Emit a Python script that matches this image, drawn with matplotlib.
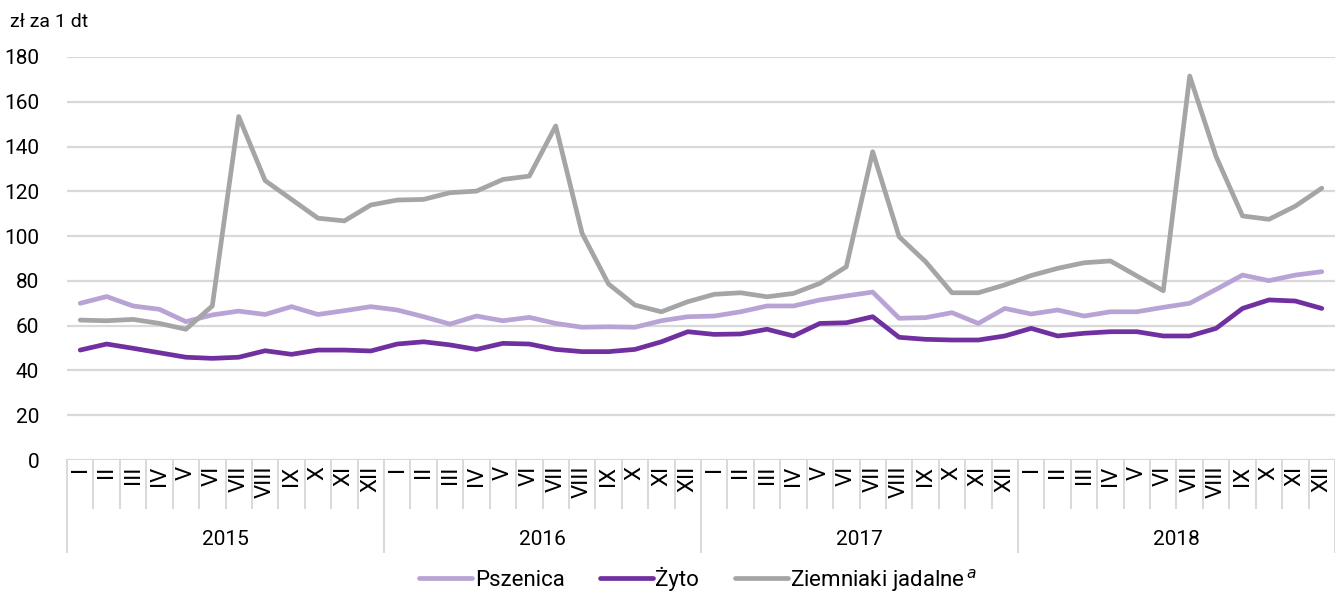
import numpy as np
import matplotlib
matplotlib.use("Agg")
import matplotlib.pyplot as plt

plt.rcParams['font.family'] = ['Roboto', 'DejaVu Sans']

years = ['2015', '2016', '2017', '2018']
months = ['I', 'II', 'III', 'IV', 'V', 'VI', 'VII', 'VIII', 'IX', 'X', 'XI', 'XII']

pszenica = [70.0, 73.0, 68.8, 67.3, 61.8, 64.8, 66.5, 65.0, 68.5, 65.0, 66.7, 68.5,
            67.0, 64.0, 60.7, 64.3, 62.2, 63.7, 61.0, 59.3, 59.5, 59.3, 62.2, 64.0,
            64.3, 66.2, 68.8, 68.8, 71.5, 73.3, 75.0, 63.3, 63.6, 65.8, 61.0, 67.7,
            65.2, 67.0, 64.3, 66.2, 66.2, 68.2, 70.0, 76.2, 82.6, 80.1, 82.6, 84.1]
zyto = [49.1, 51.8, 49.9, 47.9, 45.9, 45.4, 45.9, 48.8, 47.2, 49.1, 49.1, 48.7,
        51.8, 52.8, 51.4, 49.4, 52.1, 51.8, 49.4, 48.4, 48.4, 49.4, 52.8, 57.3,
        56.1, 56.3, 58.4, 55.4, 61.0, 61.3, 64.0, 54.8, 53.9, 53.6, 53.6, 55.4,
        58.8, 55.4, 56.6, 57.3, 57.3, 55.4, 55.4, 58.8, 67.7, 71.5, 71.0, 67.7]
ziemniaki = [62.5, 62.2, 62.8, 61.0, 58.4, 68.8, 153.4, 124.8, 116.4, 108.0, 106.8, 113.9,
             116.1, 116.4, 119.4, 120.1, 125.3, 126.8, 149.2, 101.2, 78.6, 69.2, 66.2, 70.7,
             74.0, 74.7, 72.9, 74.4, 78.9, 86.3, 137.7, 99.7, 88.6, 74.7, 74.7, 78.2,
             82.4, 85.6, 88.1, 88.9, 82.2, 75.6, 171.5, 135.5, 109.0, 107.5, 113.4, 121.4]

W, H = 1335, 595
fig = plt.figure(figsize=(W / 100, H / 100), dpi=100)
ax = fig.add_axes([67 / W, 1 - 460 / H, (1335 - 67) / W, (460 - 57) / H])

x = np.arange(len(pszenica))
ax.plot(x, pszenica, color='#b8a3d5', lw=3.4, solid_capstyle='round', label='Pszenica')
ax.plot(x, zyto, color='#7030a0', lw=3.4, solid_capstyle='round', label='Żyto')
ax.plot(x, ziemniaki, color='#a5a5a5', lw=3.4, solid_capstyle='round',
        label='Ziemniaki jadalne$^{\\,\\mathit{a}}$')

ax.set_xlim(-0.5, len(x) - 0.5)
ax.set_ylim(0, 180)
ax.set_yticks(range(0, 181, 20))
ax.yaxis.grid(True, color='#d9d9d9', lw=1.6)
ax.set_axisbelow(True)
for s in ax.spines.values():
    s.set_visible(False)
ax.tick_params(axis='y', length=0, pad=20, labelsize=15)

ax.set_xticks(x)
ax.set_xticklabels(months * len(years), rotation=90, va='top', fontsize=16)
ax.tick_params(axis='x', length=0, pad=4)

# category separators under the axis
tr = ax.get_xaxis_transform()
for k in range(len(x) + 1):
    low = -0.229 if k % 12 == 0 else -0.12
    ax.plot([k - 0.5, k - 0.5], [0, low], transform=tr, color='#d9d9d9', lw=1.4,
            clip_on=False)
for i, yr in enumerate(years):
    ax.text(i * 12 + 5.5, -0.197, yr, transform=tr, ha='center', va='center', fontsize=15)

fig.text(10 / W, 1 - 22 / H, 'zł za 1 dt', ha='left', va='center', fontsize=14)

fig.legend(loc='center', bbox_to_anchor=(0.523, 1 - 580 / H), ncol=3, frameon=False,
           fontsize=16, handlelength=2.4, handletextpad=0.1, columnspacing=1.6)

fig.savefig('out.png', dpi=100)
